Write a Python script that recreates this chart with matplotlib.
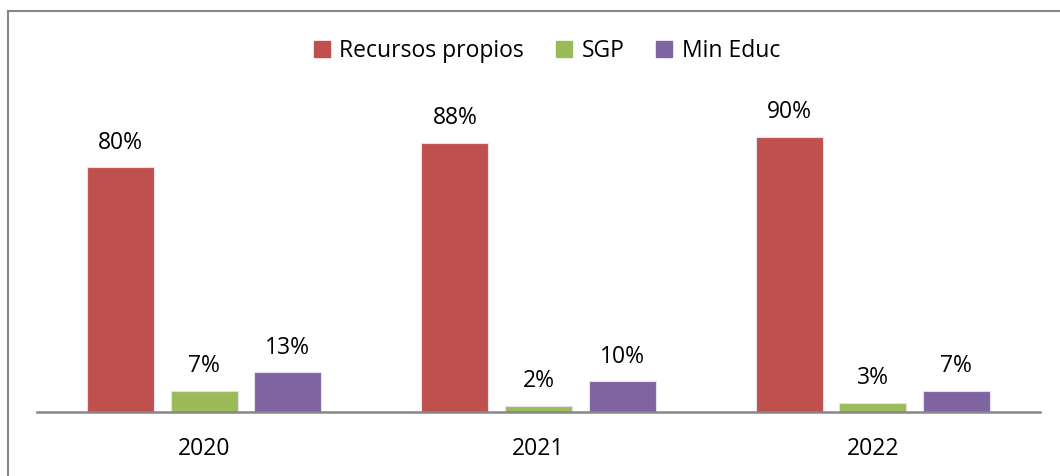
import numpy as np
import matplotlib.pyplot as plt
from matplotlib.lines import Line2D

plt.rcParams['font.family'] = ['Open Sans', 'DejaVu Sans']

years = ["2020", "2021", "2022"]
series_names = ["Recursos propios", "SGP", "Min Educ"]
recursos = [80, 88, 90]
sgp = [7, 2, 3]
min_educ = [13, 10, 7]
colors = ["#C0504D", "#9BBB59", "#8064A2"]

W, H = 1060, 476
fig = plt.figure(figsize=(W / 100, H / 100), dpi=100)
ax = fig.add_axes([37 / W, (H - 412) / H, (1040 - 37) / W, 306 / H])

x = np.arange(len(years))
width = 0.2
offsets = [-0.25, 0, 0.25]
for vals, name, col, off in zip([recursos, sgp, min_educ], series_names, colors, offsets):
    bars = ax.bar(x + off, vals, width, color=col, edgecolor="#e6e0ee", linewidth=0.8, label=name)
    for b, v in zip(bars, vals):
        ax.annotate(f"{v}%", (b.get_x() + b.get_width() / 2, v), xytext=(0, 9),
                    textcoords="offset points", ha="center", va="bottom",
                    fontsize=16.5, clip_on=False)

ax.set_xlim(-0.5, 2.5)
ax.set_ylim(0, 100)
ax.set_xticks(x)
ax.set_xticklabels(years, fontsize=16.5)
ax.tick_params(axis="x", length=0, pad=18)
ax.set_yticks([])
for s in ["top", "right", "left"]:
    ax.spines[s].set_visible(False)
ax.spines["bottom"].set_color("#868686")
ax.spines["bottom"].set_linewidth(1.8)

handles = [plt.Rectangle((0, 0), 1, 1, color=c) for c in colors]
fig.legend(handles, series_names, loc="center", bbox_to_anchor=(547 / W, 1 - 51 / H),
           ncol=3, frameon=False, fontsize=16.5, handlelength=0.7, handleheight=0.7,
           handletextpad=0.4, columnspacing=1.4)

# outer chart border (top and left visible)
fig.add_artist(Line2D([8 / W, 1], [1 - 11 / H, 1 - 11 / H], color="#868686", lw=1.5))
fig.add_artist(Line2D([8 / W, 8 / W], [0, 1 - 11 / H], color="#868686", lw=1.5))

fig.savefig("out.png", dpi=100)
